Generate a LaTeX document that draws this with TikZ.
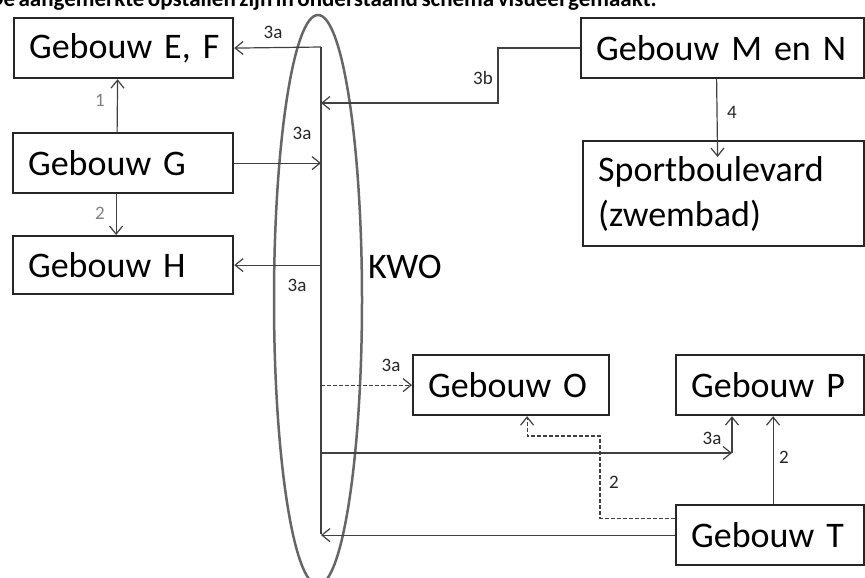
\documentclass[tikz,border=0pt]{standalone}
\usepackage{fontspec}
\setmainfont{Carlito}
\usetikzlibrary{arrows.meta}

\newcommand\gebfont{\fontsize{36}{45}\selectfont}
\newcommand\kopfont{\bfseries\fontsize{23}{23}\selectfont\spaceskip 3.5pt\relax}

\begin{document}
\begin{tikzpicture}[x=1pt,y=-1pt,
  gebouw/.style={draw=black!85,line width=2.2pt,anchor=north west,align=left,
    inner xsep=15pt,inner ysep=0pt,minimum height=60pt,font=\gebfont},
  lijn/.style={draw=black!75,line width=1.2pt},
  pijl/.style={lijn,-{Straight Barb[length=8pt,width=13pt]}},
  nr/.style={font=\fontsize{19}{19}\selectfont,text=black!85,inner sep=1pt},
  kop/.style={anchor=base east,inner sep=0pt,font=\kopfont}]
\useasboundingbox (0,0) rectangle (865,578);
\clip (0,0) rectangle (865,578);

% Heading line, cut off at the top of the scan.
\node[kop] (kop) at (657,7)
  {De aangemerkte opstallen zijn in onderstaand schema visueel gemaakt.};

% Buildings, placed by their top left corner.
\node[gebouw,text width=189pt] (ef) at (13,17) {\mbox{Gebouw E, F}};
\node[gebouw,text width=190pt] (g) at (12,132) {Gebouw G};
\node[gebouw,text width=190pt,minimum height=58pt] (h) at (12,235) {Gebouw H};
\node[gebouw,text width=253pt] (mn) at (580,17) {Gebouw M en N};
\node[gebouw,text width=251pt,minimum height=105pt] (sb) at (582,140)
  {Sportboulevard\\(zwembad)};
\node[gebouw,text width=166pt] (o) at (412,354) {Gebouw O};
\node[gebouw,text width=158pt] (p) at (675,354) {Gebouw P};
\node[gebouw,text width=158pt] (t) at (675,504) {Gebouw T};

% KWO: the ring with the distribution line inside it.
\draw[draw=black!60,line width=2.5pt] (318,300) ellipse (44 and 285);
\node[font=\gebfont,anchor=west,inner sep=0pt] (kwo) at (368,267) {KWO};
\coordinate (kwoboven) at (321,47);
\coordinate (kwoonder) at (321,534);
\coordinate (kwo3b) at (321,103);
\coordinate (knikP) at (732,453);
\draw[lijn] (kwoboven) -- (kwoonder);

% Connections 3a / 3b with the KWO line.
\draw[pijl] (kwoboven) -- (ef.east);
\draw[pijl] (g.east) -- (g.east -| kwoboven);
\draw[pijl] (h.east -| kwoboven) -- (h.east);
\draw[pijl,dash pattern=on 4pt off 2pt] (o.west -| kwoboven) -- (o.west);
\draw[pijl] (knikP -| kwoboven) -- (knikP);
\draw[pijl] (knikP) -- (knikP |- p.south);
\draw[pijl] (t.west) -- (t.west -| kwoonder);
\draw[pijl] (mn.west) -- ++(-82,0) |- (kwo3b);

% Direct links between buildings.
\draw[pijl] ([xshift=-6pt]g.north) -- ([xshift=-6pt]ef.south);
\draw[pijl] ([xshift=-7pt]g.south) -- ([xshift=-7pt]h.north);
\draw[pijl] ([xshift=-6pt]mn.south) -- ([xshift=-6pt,yshift=-17pt]sb.north);
\draw[pijl] ([xshift=3pt]t.north) -- ([xshift=3pt]p.south);
\draw[pijl,dash pattern=on 4pt off 2pt] ([yshift=17pt]t.west) -| (600,436)
  -| ([xshift=16pt]o.south);

% Labels on the links.
\foreach \x/\y/\t/\n in {273/32/3a/la, 302/133/3a/lb, 297/285/3a/lc,
  391/365/3a/ld, 712/438/3a/le, 483/78/3b/lf, 732/112/4/lg,
  614/482/2/lh, 784/457/2/li}
  \node[nr] (\n) at (\x,\y) {\t};
\foreach \y/\t/\n in {100/1/lj, 213/2/lk}
  \node[nr,text=black!50] (\n) at (100,\y) {\t};
\end{tikzpicture}
\end{document}
